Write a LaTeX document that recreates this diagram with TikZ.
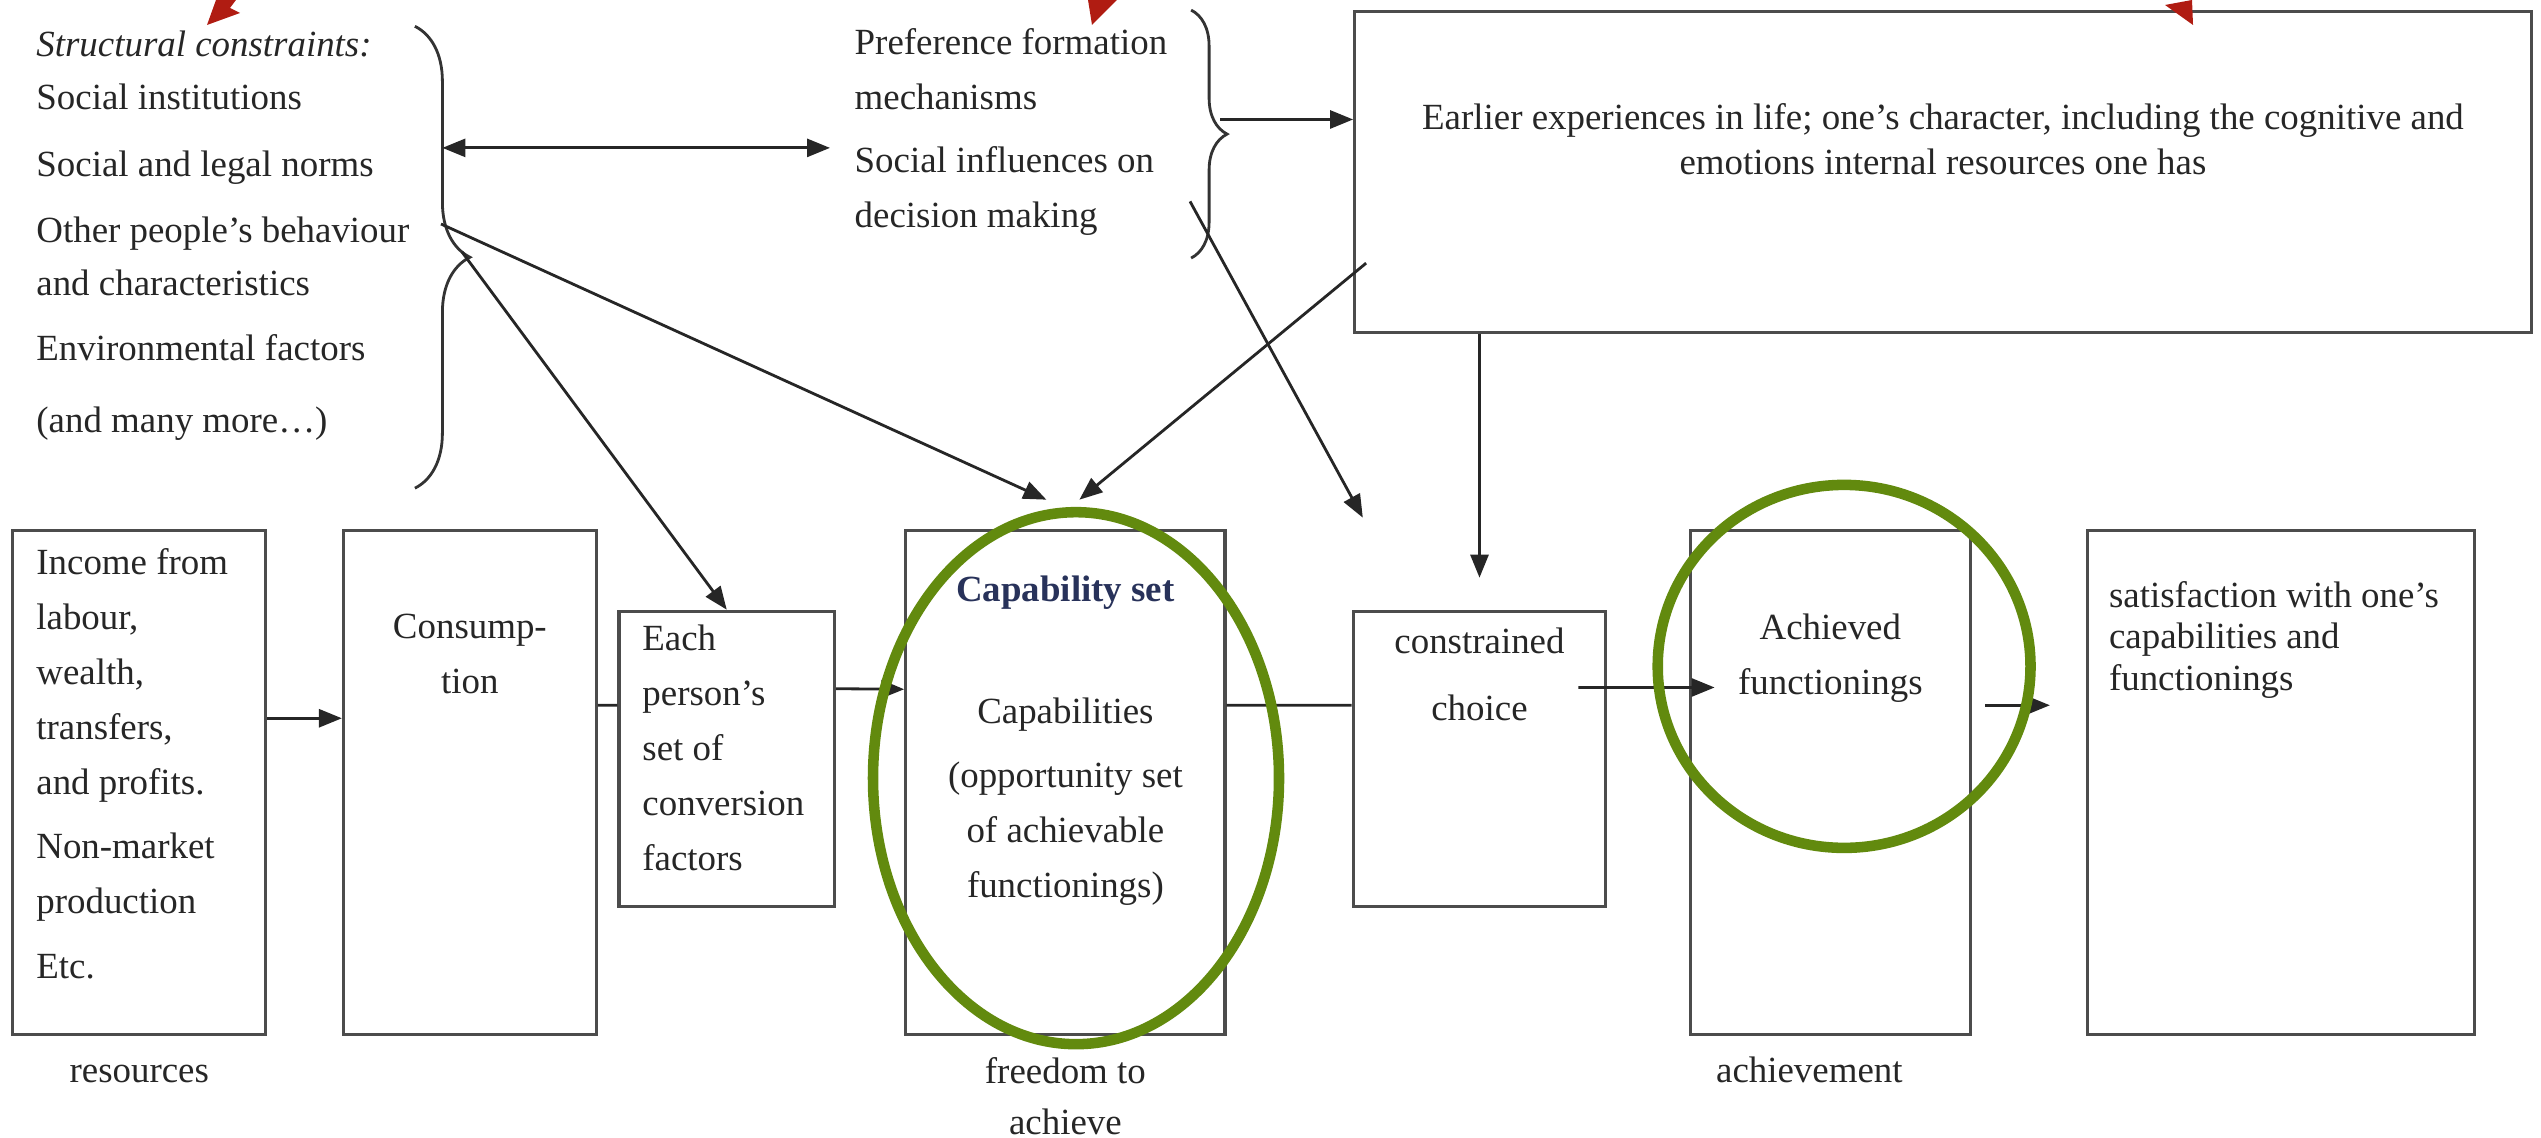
\documentclass[tikz,border=0pt]{standalone}
\usepackage{fontspec}
\setmainfont{Liberation Serif}
\usetikzlibrary{arrows.meta,decorations.pathreplacing}
\definecolor{ringgreen}{RGB}{98,138,14}
\definecolor{markred}{RGB}{176,28,18}
\definecolor{capnavy}{RGB}{40,50,90}
\tikzset{
  box/.style={draw=black!70,line width=0.9pt,inner sep=0pt,anchor=north west,minimum height=5.04cm},
  shortbox/.style={box,minimum height=2.949cm},
  txt/.style={inner sep=0pt,text=black!85,font=\fontsize{10.5}{15.6}\selectfont},
  link/.style={line width=0.8pt,black!85},
  arr/.style={link,-{Triangle[length=2.3mm,width=1.8mm]}},
  dbl/.style={link,{Triangle[length=2.3mm,width=1.8mm]}-{Triangle[length=2.3mm,width=1.8mm]}},
  brc/.style={decorate,line width=0.8pt,black!80},
  ring/.style={draw=ringgreen,line width=3pt}
}
\begin{document}
\begin{tikzpicture}
\useasboundingbox (0,0) rectangle (25.41,11.38);
\node[txt,anchor=north west,align=left,font=\fontsize{10.5}{15.2}\selectfont] (constr) at (0.357,11.08)
  {\textit{Structural constraints:}\\ Social institutions\\[3.7pt] Social and legal norms\\[3.7pt]
   Other people’s behaviour\\ and characteristics\\[3.2pt] Environmental factors\\[5.1pt] (and many more…)};
\node[txt,anchor=north west,align=left] (pref) at (8.540,11.10)
  {Preference formation\\ mechanisms\\[2.3pt] Social influences on\\ decision making};
\draw[brc,decoration={brace,amplitude=0.55cm}] (4.149,11.117) -- (4.149,6.498);
\draw[brc,decoration={brace,amplitude=0.36cm}] (11.911,11.279) -- (11.911,8.799);
\coordinate (b1s) at (4.424,9.901);
\coordinate (b1u) at (4.41,9.14);
\coordinate (b1t) at (4.62,8.86);
\coordinate (b2t) at (12.20,10.185);
\coordinate (b2l) at (11.90,9.366);

\node[box,minimum width=11.765cm,minimum height=3.209cm] (early) at (13.531,11.279) {};
\node[txt,anchor=north,align=center,font=\fontsize{10.5}{12.6}\selectfont] (earlyT) at ([yshift=-0.93cm]early.north)
  {Earlier experiences in life; one’s character, including the cognitive and\\ emotions internal resources one has};

\node[box,minimum width=2.528cm] (inc) at (0.113,6.093) {};
\node[box,minimum width=2.528cm] (con) at (3.419,6.093) {};
\node[shortbox,minimum width=2.155cm] (fac) at (6.174,5.283) {};
\node[box,minimum width=3.192cm] (cap) at (9.042,6.093) {};
\node[shortbox,minimum width=2.528cm] (cho) at (13.515,5.283) {};
\node[box,minimum width=2.803cm] (fun) at (16.886,6.093) {};
\node[box,minimum width=3.873cm] (sat) at (20.856,6.093) {};

\node[txt,anchor=north west,align=left] (incT) at ([xshift=0.244cm,yshift=-0.196cm]inc.north west)
  {Income from\\ labour,\\ wealth,\\ transfers,\\ and profits.\\[2.8pt] Non-market\\ production\\[2.8pt] Etc.};
\node[txt,anchor=north,align=center] (conT) at ([yshift=-0.85cm]con.north) {Consump-\\tion};
\node[txt,anchor=north west,align=left] (facT) at ([xshift=0.243cm,yshift=-0.147cm]fac.north west)
  {Each\\ person’s\\ set of\\ conversion\\ factors};
\node[txt,anchor=north,align=center] (capT) at ([yshift=-0.47cm]cap.north)
  {\textcolor{capnavy}{\textbf{Capability set}}\\[18.9pt] Capabilities\\[2.8pt] (opportunity set\\ of achievable\\ functionings)};
\node[txt,anchor=north,align=center] (choT) at ([yshift=-0.18cm]cho.north) {constrained\\[3.2pt] choice};
\node[txt,anchor=north,align=center] (funT) at ([yshift=-0.843cm]fun.north) {Achieved\\ functionings};
\node[txt,anchor=north west,align=left,font=\fontsize{10.5}{11.8}\selectfont] (satT) at ([xshift=0.227cm,yshift=-0.52cm]sat.north west)
  {satisfaction with one’s\\ capabilities and\\ functionings};

\node[txt,anchor=base] (res) at ([yshift=-0.462cm]inc.south) {resources};
\node[txt,anchor=north,align=center,font=\fontsize{10.5}{14.7}\selectfont] (free) at ([yshift=-0.207cm]cap.south) {freedom to\\ achieve};
\node[txt,anchor=base] (ach) at ([xshift=-0.21cm,yshift=-0.462cm]fun.south) {achievement};

\draw[dbl,shorten >=0.24cm] (b1s) -- (pref.west |- b1s);
\draw[arr] (b2t) -- (early.west |- b2t);
\draw[arr] (b1u) -- ([xshift=-0.19cm,yshift=0.29cm]cap.north);
\draw[arr] (b1t) -- (fac.north);
\draw[arr] ([xshift=0.13cm,yshift=0.71cm]early.south west) -- ([xshift=0.14cm,yshift=0.29cm]cap.north);
\draw[arr] (b2l) -- ([xshift=0.113cm,yshift=0.92cm]cho.north west);
\draw[arr] (cho.north |- early.south) -- ([yshift=0.32cm]cho.north);
\draw[arr] ([yshift=0.64cm]inc.east) -- ([yshift=0.64cm]con.west);
\draw[link] ([yshift=0.77cm]con.east) -- ([yshift=0.534cm]fac.west);
\draw[arr] ([yshift=0.70cm]fac.east) -- ([yshift=0.93cm]cap.west);
\draw[link] ([yshift=0.77cm]cap.east) -- ([yshift=0.534cm]cho.west);
\draw[arr] ([xshift=-0.29cm,yshift=0.712cm]cho.east) -- ([xshift=0.26cm,yshift=0.948cm]fun.west);
\draw[arr] ([xshift=0.13cm,yshift=0.77cm]fun.east) -- ([xshift=-0.357cm,yshift=0.77cm]sat.west);

\draw[ring] (10.76,3.598) ellipse (2.03 and 2.66);
\draw[ring] (18.441,4.716) ellipse (1.864 and 1.815);

\fill[markred] (2.16,11.38) -- (2.07,11.13) -- (2.40,11.25) -- (2.30,11.30) -- (2.36,11.38) -- cycle;
\fill[markred] (10.88,11.38) -- (10.92,11.13) -- (11.17,11.38) -- cycle;
\fill[markred] (21.65,11.33) -- (21.92,11.38) -- (21.93,11.13) -- cycle;
\end{tikzpicture}
\end{document}
